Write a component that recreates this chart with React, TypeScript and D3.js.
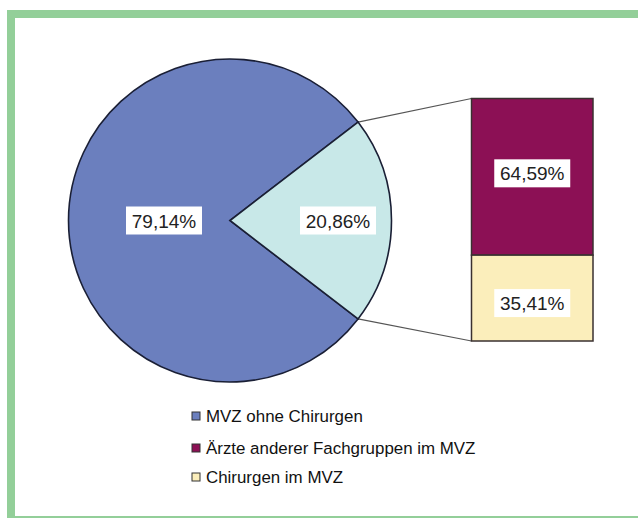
import React from "react";
import * as d3 from "d3";

const pieCategories = ["MVZ ohne Chirurgen", "Chirurgen gesamt"];
const pieValues = [79.14, 20.86];
const barCategories = ["Ärzte anderer Fachgruppen im MVZ", "Chirurgen im MVZ"];
const barValues = [64.59, 35.41];
const legendLabels = ["MVZ ohne Chirurgen", "Ärzte anderer Fachgruppen im MVZ", "Chirurgen im MVZ"];

const fmt = (v: number) => v.toFixed(2).replace(".", ",") + "%";

const W = 638;
const H = 518;
const cx = 230;
const cy = 220.5;
const R = 161.5;
const pieColors = ["#6b7fbe", "#c8e8e8"];
const barColors = ["#8c1055", "#fbeebb"];
const legendColors = ["#6b7fbe", "#8c1055", "#fbeebb"];
const labelRadii = [66, 108];
const barLabelOffsets = [-3.5, 5];
const FONT = "'Liberation Sans', Arial, sans-serif";

function Label({ x, y, text }: { x: number; y: number; text: string }) {
  const fs = 19;
  const w = 76;
  return (
    <g>
      <rect x={x - w / 2} y={y - 14} width={w} height={28} fill="#ffffff" />
      <text x={x} y={y + 7} textAnchor="middle" fontSize={fs} fontFamily={FONT} fill="#222">
        {text}
      </text>
    </g>
  );
}

export default function App() {
  const total = d3.sum(pieValues);
  const start = Math.PI / 2 + (pieValues[1] / total) * Math.PI;
  const pie = d3
    .pie<number>()
    .sort(null)
    .startAngle(start)
    .endAngle(start + 2 * Math.PI);
  const arcs = pie(pieValues);
  const arc = d3.arc<d3.PieArcDatum<number>>().innerRadius(0).outerRadius(R);

  const barX0 = 471.5;
  const barX1 = 593;
  const barY = d3.scaleLinear().domain([0, d3.sum(barValues)]).range([98.5, 341]);
  const stack: { y0: number; y1: number; v: number; i: number }[] = [];
  let acc = 0;
  barValues.forEach((v, i) => {
    stack.push({ y0: acc, y1: acc + v, v, i });
    acc += v;
  });

  const small = arcs[1];
  const pt = (a: number) => [cx + R * Math.sin(a), cy - R * Math.cos(a)];
  const pTop = pt(small.startAngle);
  const pBot = pt(small.endAngle);

  const legendY = [416, 448, 477];

  return (
    <svg
      width={W}
      height={H}
      style={{ position: "absolute", left: 0, top: 0, background: "#fff" }}
    >
      <rect x={0} y={0} width={W} height={H} fill="#fff" />
      {/* frame */}
      <rect x={7} y={10} width={W - 7} height={8} fill="#93cf99" />
      <rect x={7} y={10} width={8} height={H - 10} fill="#93cf99" />
      <rect x={7} y={516} width={W - 7} height={2} fill="#93cf99" />

      {/* connectors */}
      <line x1={pTop[0]} y1={pTop[1]} x2={barX0} y2={barY(0)} stroke="#555" strokeWidth={1.2} />
      <line x1={pBot[0]} y1={pBot[1]} x2={barX0} y2={barY(acc)} stroke="#555" strokeWidth={1.2} />

      {/* pie */}
      <g transform={`translate(${cx},${cy})`}>
        {arcs.map((a, i) => (
          <path key={i} d={arc(a) || ""} fill={pieColors[i]} stroke="#1a1f35" strokeWidth={1.6} />
        ))}
      </g>
      {arcs.map((a, i) => {
        const mid = (a.startAngle + a.endAngle) / 2;
        const x = cx + labelRadii[i] * Math.sin(mid);
        const y = cy - labelRadii[i] * Math.cos(mid);
        return <Label key={i} x={x} y={y} text={fmt(pieValues[i])} />;
      })}

      {/* bar */}
      {stack.map((s) => (
        <rect
          key={s.i}
          x={barX0}
          y={barY(s.y0)}
          width={barX1 - barX0}
          height={barY(s.y1) - barY(s.y0)}
          fill={barColors[s.i]}
          stroke="#3a3030"
          strokeWidth={1.5}
        />
      ))}
      {stack.map((s) => (
        <Label
          key={"l" + s.i}
          x={(barX0 + barX1) / 2}
          y={(barY(s.y0) + barY(s.y1)) / 2 + barLabelOffsets[s.i]}
          text={fmt(s.v)}
        />
      ))}

      {/* legend */}
      {legendLabels.map((l, i) => (
        <g key={i}>
          <rect
            x={192}
            y={legendY[i] - 4}
            width={8}
            height={8}
            fill={legendColors[i]}
            stroke="#333"
            strokeWidth={1}
          />
          <text x={206} y={legendY[i] + 6} fontSize={16.9} fontFamily={FONT} fill="#111">
            {l}
          </text>
        </g>
      ))}
    </svg>
  );
}
